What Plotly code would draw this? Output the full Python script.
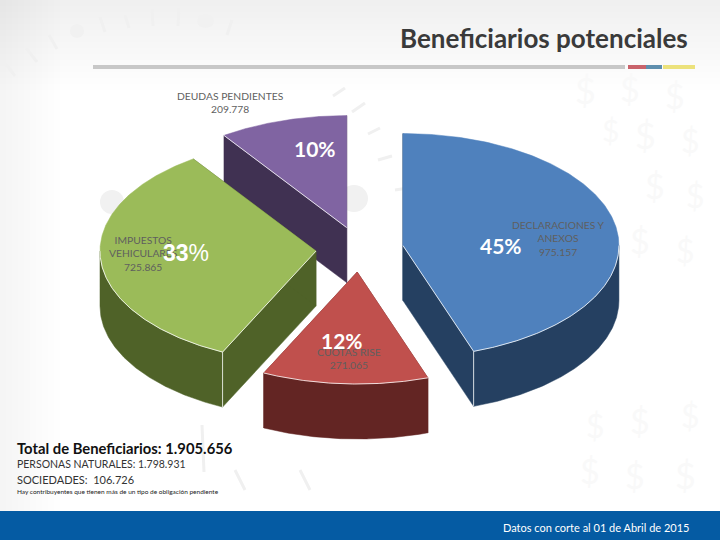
import numpy as np
import plotly.graph_objects as go

# Chart data
categories = ["DECLARACIONES Y<br>ANEXOS", "CUOTAS RISE", "IMPUESTOS<br>VEHICULARES", "DEUDAS PENDIENTES"]
values = [975157, 271065, 725865, 209778]
value_labels = ["975.157", "271.065", "725.865", "209.778"]
percent_labels = ["<b>45%</b>", "<b>12%</b>", "<b>33</b>%", "<b>10%</b>"]

top_colors = ["#4F81BD", "#C0504D", "#9BBB59", "#8064A2"]
side_colors = ["#254061", "#632523", "#4F6228", "#403152"]

# Pie geometry in page pixels
cx, cy = 359.7, 249.3
rx, ry = 216, 112
depth = 55
pull = 0.203

# Order the slices are painted in: back to front
paint_order = [3, 2, 0, 1]


def point(x0, y0, deg, scale=1.0):
    a = np.radians(deg)
    return x0 + rx * scale * np.sin(a), y0 - ry * scale * np.cos(a)


def add_poly(fig, xs, ys, color):
    fig.add_trace(go.Scatter(x=xs, y=ys, mode="lines", fill="toself", fillcolor=color,
                             line=dict(color=color, width=0.5), hoverinfo="skip", showlegend=False))


def add_seam(fig, xs, ys):
    fig.add_trace(go.Scatter(x=xs, y=ys, mode="lines", line=dict(color="#ffffff", width=0.8),
                             hoverinfo="skip", showlegend=False))


fig = go.Figure()

# Slices
edges = np.concatenate([[0], np.cumsum(values)]) / sum(values) * 360
for i in paint_order:
    start, end = edges[i], edges[i + 1]
    mid = (start + end) / 2
    x0, y0 = point(cx, cy, mid, pull)

    # radial walls
    for deg in (start, end):
        px, py = point(x0, y0, deg)
        add_poly(fig, [x0, px, px, x0, x0], [y0, py, py + depth, y0 + depth, y0], side_colors[i])

    # outer wall, only the part that faces the viewer
    lo, hi = max(start, 90), min(end, 270)
    if hi > lo:
        t = np.linspace(lo, hi, 120)
        ax, ay = point(x0, y0, t)
        add_poly(fig, np.r_[ax, ax[::-1], ax[0]], np.r_[ay, ay[::-1] + depth, ay[0]], side_colors[i])

    # top face
    t = np.linspace(start, end, 240)
    ax, ay = point(x0, y0, t)
    add_poly(fig, np.r_[x0, ax, x0], np.r_[y0, ay, y0], top_colors[i])

    # thin white seams along the front edges
    if hi > lo:
        t = np.linspace(lo, hi, 120)
        ax, ay = point(x0, y0, t)
        add_seam(fig, ax, ay)
    if i == 0:
        px, py = point(x0, y0, end)
        add_seam(fig, [x0, px, px], [y0, py, py + depth])
    if i == 2:
        px, py = point(x0, y0, start)
        add_seam(fig, [x0, px, px], [y0, py, py + depth])
    if i == 3:
        px, py = point(x0, y0, start)
        add_seam(fig, [x0, px], [y0, py])

shapes = []

# Pale top and left of the slide background
for h in range(6, 96, 6):
    shapes.append(dict(type="rect", x0=0, x1=720, y0=0, y1=h, fillcolor="rgba(0,0,0,0.003)",
                       line_width=0, layer="below"))
for w in range(6, 66, 6):
    shapes.append(dict(type="rect", x0=0, x1=w, y0=0, y1=511, fillcolor="rgba(0,0,0,0.0025)",
                       line_width=0, layer="below"))

# Watermark streaks
streaks = [(5, 63, 15, 76), (26, 48, 37, 62), (49, 35, 57, 49), (100, 17, 105, 32),
           (125, 15, 129, 28), (152, 9, 153, 26), (179, 8, 178, 26), (232, 20, 227, 35),
           (333, 96, 345, 88), (352, 112, 365, 103), (368, 134, 380, 128), (378, 160, 392, 156),
           (395, 190, 408, 188), (202, 425, 204, 472), (300, 470, 310, 490), (235, 470, 245, 490)]
for x0, y0, x1, y1 in streaks:
    shapes.append(dict(type="line", x0=x0, y0=y0, x1=x1, y1=y1, layer="below",
                       line=dict(color="#f0f0f0", width=3)))
for x0, y0, x1, y1 in [(70, 24, 84, 38), (197, 14, 214, 28), (100, 190, 124, 214), (340, 185, 368, 212)]:
    shapes.append(dict(type="circle", x0=x0, y0=y0, x1=x1, y1=y1, layer="below",
                       fillcolor="#f1f1f1", line_width=0))

# Header rule
shapes.append(dict(type="rect", x0=93, x1=625, y0=65, y1=69, fillcolor="#c8c8c8", line_width=0))
shapes.append(dict(type="rect", x0=628, x1=646, y0=65, y1=69, fillcolor="#c9636b", line_width=0))
shapes.append(dict(type="rect", x0=646, x1=662, y0=65, y1=69, fillcolor="#5f8fae", line_width=0))
shapes.append(dict(type="rect", x0=663, x1=695, y0=65, y1=69, fillcolor="#ece27c", line_width=0))

# Footer band
shapes.append(dict(type="rect", x0=0, x1=720, y0=511, y1=540, fillcolor="#055ba3", line_width=0))

annotations = []


def add_text(text, x, y, size, color, family="Lato", bold=False, anchor="center"):
    if bold:
        text = f"<b>{text}</b>"
    annotations.append(dict(text=text, x=x, y=y, xref="x", yref="y", showarrow=False, xanchor=anchor,
                            yanchor="middle", align="center", borderpad=0,
                            font=dict(size=size, color=color, family=family)))


# Watermark dollar signs, barely visible
for x, y, s in [(585, 90, 36), (630, 88, 34), (675, 95, 34), (645, 135, 36), (690, 140, 32),
                (610, 130, 30), (655, 185, 34), (695, 195, 32), (640, 240, 34), (685, 250, 32),
                (595, 425, 32), (640, 420, 34), (690, 415, 32), (590, 470, 34), (635, 475, 34), (685, 475, 36)]:
    add_text("$", x, y, s, "#f9f9f9")

label_pos = [(558, 238), (349, 358), (143, 253), (230, 102)]
percent_pos = [(501, 245), (342, 340), (186, 253), (315, 148)]
percent_font = ["Lato", "Lato", "Liberation Sans", "Lato"]
percent_size = [21, 21, 23, 21]
for i in range(len(categories)):
    add_text(f"{categories[i]}<br>{value_labels[i]}", label_pos[i][0], label_pos[i][1], 10.3, "#5f5f5f")
    add_text(percent_labels[i], percent_pos[i][0], percent_pos[i][1], percent_size[i], "#ffffff",
             family=percent_font[i])

add_text("Beneficiarios potenciales", 689, 38, 26, "#3a3a3a", bold=True, anchor="right")
add_text("Total de Beneficiarios: 1.905.656", 16, 448, 14.8, "#111111", bold=True, anchor="left")
add_text("PERSONAS NATURALES: 1.798.931", 16, 464, 10.5, "#333333", anchor="left")
add_text("SOCIEDADES:&nbsp;&nbsp;106.726", 16, 479, 11, "#333333", anchor="left")
add_text("Hay contribuyentes que tienen más de un tipo de obligación pendiente", 16, 491, 6.5, "#222222", anchor="left")
add_text("Datos con corte al 01 de Abril de 2015", 690, 527, 11, "#ffffff", anchor="right")

fig.update_layout(
    width=720, height=540,
    margin=dict(l=0, r=0, t=0, b=0),
    paper_bgcolor="#ffffff", plot_bgcolor="#ffffff",
    xaxis=dict(range=[0, 720], visible=False, fixedrange=True),
    yaxis=dict(range=[540, 0], visible=False, fixedrange=True),
    shapes=shapes, annotations=annotations, showlegend=False,
)

# The page's default body margin would push the chart off the window
fig.write_html("out.html", config={"displayModeBar": False},
               post_script="document.body.style.margin='0';document.body.style.overflow='hidden';")
